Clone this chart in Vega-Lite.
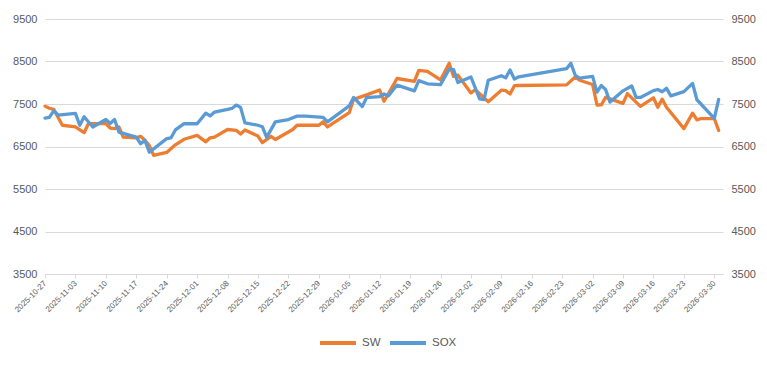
{
  "$schema": "https://vega.github.io/schema/vega-lite/v6.json",
  "autosize": {"type": "none"},
  "width": 678,
  "height": 255,
  "padding": {"left": 45, "top": 19, "right": 44, "bottom": 94},
  "background": "#ffffff",
  "config": {
    "view": {"stroke": null},
    "font": "Liberation Sans"
  },
  "data": {
    "values": [
      {"date": "2025-10-27", "series": "SW", "value": 7450},
      {"date": "2025-10-28", "series": "SW", "value": 7400},
      {"date": "2025-10-29", "series": "SW", "value": 7375},
      {"date": "2025-10-31", "series": "SW", "value": 7000},
      {"date": "2025-11-03", "series": "SW", "value": 6960},
      {"date": "2025-11-05", "series": "SW", "value": 6825},
      {"date": "2025-11-06", "series": "SW", "value": 7040},
      {"date": "2025-11-07", "series": "SW", "value": 7040},
      {"date": "2025-11-10", "series": "SW", "value": 7040},
      {"date": "2025-11-11", "series": "SW", "value": 6935},
      {"date": "2025-11-12", "series": "SW", "value": 6920},
      {"date": "2025-11-13", "series": "SW", "value": 6960},
      {"date": "2025-11-14", "series": "SW", "value": 6720},
      {"date": "2025-11-17", "series": "SW", "value": 6705},
      {"date": "2025-11-18", "series": "SW", "value": 6740},
      {"date": "2025-11-19", "series": "SW", "value": 6645},
      {"date": "2025-11-20", "series": "SW", "value": 6520},
      {"date": "2025-11-21", "series": "SW", "value": 6290},
      {"date": "2025-11-24", "series": "SW", "value": 6360},
      {"date": "2025-11-26", "series": "SW", "value": 6540},
      {"date": "2025-11-28", "series": "SW", "value": 6670},
      {"date": "2025-12-01", "series": "SW", "value": 6760},
      {"date": "2025-12-03", "series": "SW", "value": 6610},
      {"date": "2025-12-04", "series": "SW", "value": 6705},
      {"date": "2025-12-05", "series": "SW", "value": 6720},
      {"date": "2025-12-08", "series": "SW", "value": 6900},
      {"date": "2025-12-10", "series": "SW", "value": 6880},
      {"date": "2025-12-11", "series": "SW", "value": 6795},
      {"date": "2025-12-12", "series": "SW", "value": 6890},
      {"date": "2025-12-15", "series": "SW", "value": 6745},
      {"date": "2025-12-16", "series": "SW", "value": 6590},
      {"date": "2025-12-18", "series": "SW", "value": 6740},
      {"date": "2025-12-19", "series": "SW", "value": 6665},
      {"date": "2025-12-23", "series": "SW", "value": 6900},
      {"date": "2025-12-24", "series": "SW", "value": 7000},
      {"date": "2025-12-29", "series": "SW", "value": 7000},
      {"date": "2025-12-30", "series": "SW", "value": 7080},
      {"date": "2025-12-31", "series": "SW", "value": 6960},
      {"date": "2026-01-05", "series": "SW", "value": 7295},
      {"date": "2026-01-06", "series": "SW", "value": 7610},
      {"date": "2026-01-09", "series": "SW", "value": 7715},
      {"date": "2026-01-12", "series": "SW", "value": 7830},
      {"date": "2026-01-13", "series": "SW", "value": 7565},
      {"date": "2026-01-16", "series": "SW", "value": 8100},
      {"date": "2026-01-20", "series": "SW", "value": 8030},
      {"date": "2026-01-21", "series": "SW", "value": 8290},
      {"date": "2026-01-23", "series": "SW", "value": 8270},
      {"date": "2026-01-26", "series": "SW", "value": 8065},
      {"date": "2026-01-28", "series": "SW", "value": 8460},
      {"date": "2026-01-29", "series": "SW", "value": 8150},
      {"date": "2026-01-30", "series": "SW", "value": 8180},
      {"date": "2026-02-02", "series": "SW", "value": 7760},
      {"date": "2026-02-03", "series": "SW", "value": 7835},
      {"date": "2026-02-06", "series": "SW", "value": 7555},
      {"date": "2026-02-09", "series": "SW", "value": 7825},
      {"date": "2026-02-10", "series": "SW", "value": 7815},
      {"date": "2026-02-11", "series": "SW", "value": 7735},
      {"date": "2026-02-12", "series": "SW", "value": 7930},
      {"date": "2026-02-13", "series": "SW", "value": 7935},
      {"date": "2026-02-24", "series": "SW", "value": 7950},
      {"date": "2026-02-26", "series": "SW", "value": 8135},
      {"date": "2026-02-27", "series": "SW", "value": 8060},
      {"date": "2026-03-02", "series": "SW", "value": 7960},
      {"date": "2026-03-03", "series": "SW", "value": 7477},
      {"date": "2026-03-04", "series": "SW", "value": 7480},
      {"date": "2026-03-05", "series": "SW", "value": 7655},
      {"date": "2026-03-06", "series": "SW", "value": 7620},
      {"date": "2026-03-09", "series": "SW", "value": 7515},
      {"date": "2026-03-10", "series": "SW", "value": 7745},
      {"date": "2026-03-13", "series": "SW", "value": 7445},
      {"date": "2026-03-16", "series": "SW", "value": 7645},
      {"date": "2026-03-17", "series": "SW", "value": 7425},
      {"date": "2026-03-18", "series": "SW", "value": 7615},
      {"date": "2026-03-19", "series": "SW", "value": 7425},
      {"date": "2026-03-23", "series": "SW", "value": 6920},
      {"date": "2026-03-25", "series": "SW", "value": 7285},
      {"date": "2026-03-26", "series": "SW", "value": 7125},
      {"date": "2026-03-27", "series": "SW", "value": 7158},
      {"date": "2026-03-30", "series": "SW", "value": 7158},
      {"date": "2026-03-31", "series": "SW", "value": 6875},

      {"date": "2025-10-27", "series": "SOX", "value": 7170},
      {"date": "2025-10-28", "series": "SOX", "value": 7185},
      {"date": "2025-10-29", "series": "SOX", "value": 7340},
      {"date": "2025-10-30", "series": "SOX", "value": 7240},
      {"date": "2025-11-03", "series": "SOX", "value": 7280},
      {"date": "2025-11-04", "series": "SOX", "value": 7000},
      {"date": "2025-11-05", "series": "SOX", "value": 7200},
      {"date": "2025-11-07", "series": "SOX", "value": 6960},
      {"date": "2025-11-10", "series": "SOX", "value": 7135},
      {"date": "2025-11-11", "series": "SOX", "value": 7040},
      {"date": "2025-11-12", "series": "SOX", "value": 7135},
      {"date": "2025-11-13", "series": "SOX", "value": 6840},
      {"date": "2025-11-17", "series": "SOX", "value": 6720},
      {"date": "2025-11-18", "series": "SOX", "value": 6565},
      {"date": "2025-11-19", "series": "SOX", "value": 6645},
      {"date": "2025-11-20", "series": "SOX", "value": 6365},
      {"date": "2025-11-24", "series": "SOX", "value": 6685},
      {"date": "2025-11-25", "series": "SOX", "value": 6705},
      {"date": "2025-11-26", "series": "SOX", "value": 6890},
      {"date": "2025-11-28", "series": "SOX", "value": 7040},
      {"date": "2025-12-01", "series": "SOX", "value": 7035},
      {"date": "2025-12-03", "series": "SOX", "value": 7285},
      {"date": "2025-12-04", "series": "SOX", "value": 7220},
      {"date": "2025-12-05", "series": "SOX", "value": 7310},
      {"date": "2025-12-08", "series": "SOX", "value": 7375},
      {"date": "2025-12-09", "series": "SOX", "value": 7395},
      {"date": "2025-12-10", "series": "SOX", "value": 7475},
      {"date": "2025-12-11", "series": "SOX", "value": 7420},
      {"date": "2025-12-12", "series": "SOX", "value": 7055},
      {"date": "2025-12-15", "series": "SOX", "value": 7000},
      {"date": "2025-12-16", "series": "SOX", "value": 6965},
      {"date": "2025-12-17", "series": "SOX", "value": 6715},
      {"date": "2025-12-19", "series": "SOX", "value": 7080},
      {"date": "2025-12-22", "series": "SOX", "value": 7135},
      {"date": "2025-12-24", "series": "SOX", "value": 7215},
      {"date": "2025-12-26", "series": "SOX", "value": 7215},
      {"date": "2025-12-30", "series": "SOX", "value": 7185},
      {"date": "2025-12-31", "series": "SOX", "value": 7080},
      {"date": "2026-01-05", "series": "SOX", "value": 7455},
      {"date": "2026-01-06", "series": "SOX", "value": 7655},
      {"date": "2026-01-08", "series": "SOX", "value": 7440},
      {"date": "2026-01-09", "series": "SOX", "value": 7650},
      {"date": "2026-01-12", "series": "SOX", "value": 7675},
      {"date": "2026-01-13", "series": "SOX", "value": 7735},
      {"date": "2026-01-14", "series": "SOX", "value": 7690},
      {"date": "2026-01-16", "series": "SOX", "value": 7945},
      {"date": "2026-01-20", "series": "SOX", "value": 7810},
      {"date": "2026-01-21", "series": "SOX", "value": 8050},
      {"date": "2026-01-23", "series": "SOX", "value": 7975},
      {"date": "2026-01-26", "series": "SOX", "value": 7955},
      {"date": "2026-01-28", "series": "SOX", "value": 8320},
      {"date": "2026-01-29", "series": "SOX", "value": 8310},
      {"date": "2026-01-30", "series": "SOX", "value": 8005},
      {"date": "2026-02-02", "series": "SOX", "value": 8135},
      {"date": "2026-02-04", "series": "SOX", "value": 7620},
      {"date": "2026-02-05", "series": "SOX", "value": 7605},
      {"date": "2026-02-06", "series": "SOX", "value": 8060},
      {"date": "2026-02-09", "series": "SOX", "value": 8165},
      {"date": "2026-02-10", "series": "SOX", "value": 8115},
      {"date": "2026-02-11", "series": "SOX", "value": 8300},
      {"date": "2026-02-12", "series": "SOX", "value": 8085},
      {"date": "2026-02-13", "series": "SOX", "value": 8140},
      {"date": "2026-02-24", "series": "SOX", "value": 8330},
      {"date": "2026-02-25", "series": "SOX", "value": 8460},
      {"date": "2026-02-26", "series": "SOX", "value": 8175},
      {"date": "2026-02-27", "series": "SOX", "value": 8110},
      {"date": "2026-03-02", "series": "SOX", "value": 8150},
      {"date": "2026-03-03", "series": "SOX", "value": 7780},
      {"date": "2026-03-04", "series": "SOX", "value": 7935},
      {"date": "2026-03-05", "series": "SOX", "value": 7837},
      {"date": "2026-03-06", "series": "SOX", "value": 7545},
      {"date": "2026-03-09", "series": "SOX", "value": 7810},
      {"date": "2026-03-11", "series": "SOX", "value": 7925},
      {"date": "2026-03-12", "series": "SOX", "value": 7657},
      {"date": "2026-03-13", "series": "SOX", "value": 7655},
      {"date": "2026-03-16", "series": "SOX", "value": 7815},
      {"date": "2026-03-17", "series": "SOX", "value": 7841},
      {"date": "2026-03-18", "series": "SOX", "value": 7787},
      {"date": "2026-03-19", "series": "SOX", "value": 7868},
      {"date": "2026-03-20", "series": "SOX", "value": 7690},
      {"date": "2026-03-23", "series": "SOX", "value": 7790},
      {"date": "2026-03-25", "series": "SOX", "value": 7985},
      {"date": "2026-03-26", "series": "SOX", "value": 7600},
      {"date": "2026-03-30", "series": "SOX", "value": 7163},
      {"date": "2026-03-31", "series": "SOX", "value": 7610}
    ]
  },
  "encoding": {
    "x": {
      "field": "date",
      "type": "temporal",
      "scale": {
        "type": "utc",
        "domain": [
          {"year": 2025, "month": 10, "date": 27, "utc": true},
          {"year": 2026, "month": 4, "date": 1, "utc": true}
        ]
      },
      "axis": {
        "title": null,
        "values": [
          {"year": 2025, "month": 10, "date": 27, "utc": true},
          {"year": 2025, "month": 11, "date": 3, "utc": true},
          {"year": 2025, "month": 11, "date": 10, "utc": true},
          {"year": 2025, "month": 11, "date": 17, "utc": true},
          {"year": 2025, "month": 11, "date": 24, "utc": true},
          {"year": 2025, "month": 12, "date": 1, "utc": true},
          {"year": 2025, "month": 12, "date": 8, "utc": true},
          {"year": 2025, "month": 12, "date": 15, "utc": true},
          {"year": 2025, "month": 12, "date": 22, "utc": true},
          {"year": 2025, "month": 12, "date": 29, "utc": true},
          {"year": 2026, "month": 1, "date": 5, "utc": true},
          {"year": 2026, "month": 1, "date": 12, "utc": true},
          {"year": 2026, "month": 1, "date": 19, "utc": true},
          {"year": 2026, "month": 1, "date": 26, "utc": true},
          {"year": 2026, "month": 2, "date": 2, "utc": true},
          {"year": 2026, "month": 2, "date": 9, "utc": true},
          {"year": 2026, "month": 2, "date": 16, "utc": true},
          {"year": 2026, "month": 2, "date": 23, "utc": true},
          {"year": 2026, "month": 3, "date": 2, "utc": true},
          {"year": 2026, "month": 3, "date": 9, "utc": true},
          {"year": 2026, "month": 3, "date": 16, "utc": true},
          {"year": 2026, "month": 3, "date": 23, "utc": true},
          {"year": 2026, "month": 3, "date": 30, "utc": true}
        ],
        "labelExpr": "utcFormat(datum.value, '%Y-%m-%d')",
        "labelAngle": -45,
        "labelAlign": "right",
        "labelBaseline": "middle",
        "labelFontSize": 8,
        "labelColor": "#595959",
        "labelOverlap": false,
        "labelPadding": 4,
        "labelFlush": false,
        "labelBound": false,
        "grid": false,
        "domainColor": "#D9D9D9",
        "tickColor": "#D9D9D9",
        "tickSize": 4
      }
    },
    "color": {
      "field": "series",
      "type": "nominal",
      "scale": {"domain": ["SW", "SOX"], "range": ["#ED7D31", "#5B9BD5"]},
      "legend": {
        "title": null,
        "orient": "none",
        "legendX": 273,
        "legendY": 304,
        "direction": "horizontal",
        "symbolType": "stroke",
        "symbolSize": 1296,
        "symbolStrokeWidth": 4,
        "labelFontSize": 11.5,
        "labelColor": "#595959",
        "labelOffset": 4,
        "columnPadding": 1
      }
    }
  },
  "layer": [
    {
      "transform": [{"filter": "datum.series === 'SW'"}],
      "mark": {"type": "line", "strokeWidth": 3.3, "strokeJoin": "round", "strokeCap": "round"},
      "encoding": {
        "y": {
          "field": "value",
          "type": "quantitative",
          "scale": {"domain": [3500, 9500], "nice": false, "zero": false},
          "axis": {
            "title": null,
            "orient": "left",
            "values": [3500, 4500, 5500, 6500, 7500, 8500, 9500],
            "format": "d",
            "grid": true,
            "gridColor": "#D9D9D9",
            "domain": false,
            "ticks": false,
            "labelFontSize": 11,
            "labelColor": "#595959",
            "labelPadding": 8
          }
        }
      }
    },
    {
      "transform": [{"filter": "datum.series === 'SOX'"}],
      "mark": {"type": "line", "strokeWidth": 3.3, "strokeJoin": "round", "strokeCap": "round"},
      "encoding": {
        "y": {
          "field": "value",
          "type": "quantitative",
          "scale": {"domain": [3500, 9500], "nice": false, "zero": false},
          "axis": {
            "title": null,
            "orient": "right",
            "values": [3500, 4500, 5500, 6500, 7500, 8500, 9500],
            "format": "d",
            "grid": false,
            "domain": false,
            "ticks": false,
            "labelFontSize": 11,
            "labelColor": "#595959",
            "labelPadding": 8
          }
        }
      }
    }
  ],
  "resolve": {"scale": {"y": "independent"}}
}
